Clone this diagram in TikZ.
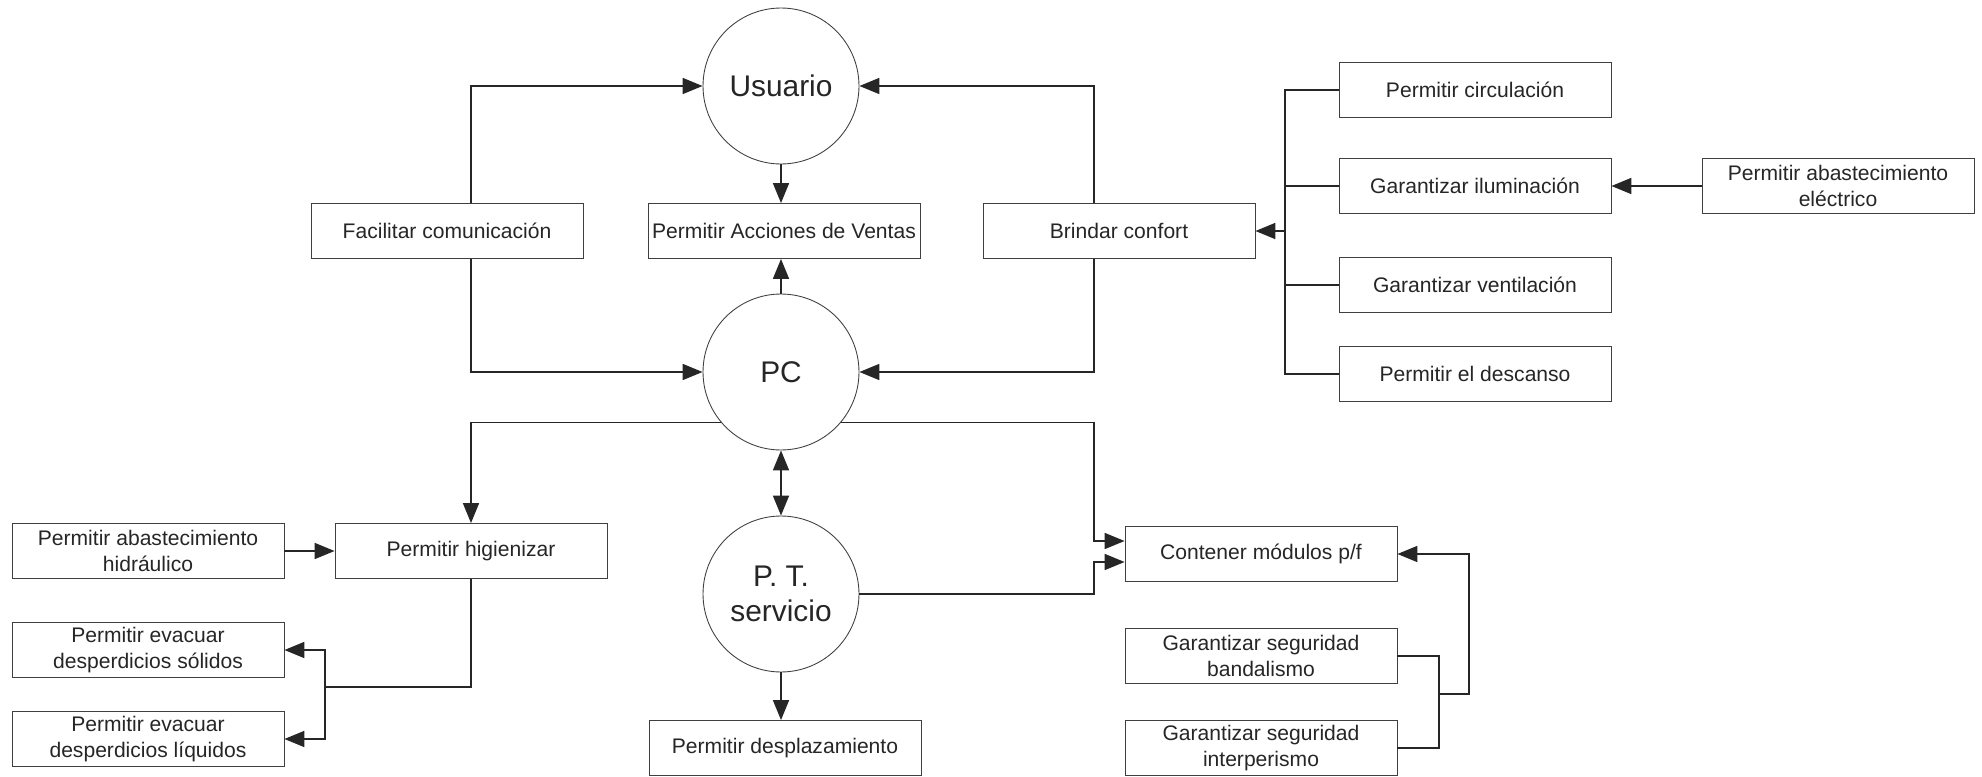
\documentclass[tikz,border=0pt]{standalone}
\usepackage{fontspec}
\setmainfont{Liberation Sans}
\usepackage{tikz}
\usetikzlibrary{positioning,arrows.meta}

\begin{document}
\begin{tikzpicture}[x=0.02cm,y=-0.02cm,->,>={Triangle[length=4mm,width=3.2mm]},line width=1pt,color=black!85]
  \tikzstyle{box}=[rectangle,draw=black!75,line width=0.5pt,minimum width=5.44cm,minimum height=1.1cm,align=center,inner sep=1pt,font=\fontsize{12}{14.4}\selectfont]
  \tikzstyle{ball}=[circle,draw=black!75,line width=0.5pt,minimum size=3.12cm,align=center,inner sep=0pt,font=\fontsize{17}{20}\selectfont]

  \useasboundingbox (0,0) rectangle (1982,777);

  \node[ball] (usuario) at (781,86) {Usuario};
  \node[ball] (pc) at (781,372) {PC};
  \node[ball] (pts) at (781,594) {P. T.\\servicio};

  \node[box] (facil) at (447,231) {Facilitar comunicación};
  \node[box] (acciones) at (784,231) {Permitir Acciones de Ventas};
  \node[box] (brindar) at (1119,231) {Brindar confort};
  \node[box] (circ) at (1475,90) {Permitir circulación};
  \node[box] (ilum) at (1475,186) {Garantizar iluminación};
  \node[box] (vent) at (1475,285) {Garantizar ventilación};
  \node[box] (desc) at (1475,374) {Permitir el descanso};
  \node[box] (elec) at (1838,186) {Permitir abastecimiento\\eléctrico};
  \node[box] (hidr) at (148,551) {Permitir abastecimiento\\hidráulico};
  \node[box] (higi) at (471,551) {Permitir higienizar};
  \node[box] (solid) at (148,650) {Permitir evacuar\\desperdicios sólidos};
  \node[box] (liq) at (148,739) {Permitir evacuar\\desperdicios líquidos};
  \node[box] (despl) at (785,748) {Permitir desplazamiento};
  \node[box] (cont) at (1261,554) {Contener módulos p/f};
  \node[box] (band) at (1261,656) {Garantizar seguridad\\bandalismo};
  \node[box] (inter) at (1261,748) {Garantizar seguridad\\interperismo};

  % junction points
  \coordinate (rc) at (1094,0);
  \coordinate (bb) at (1285,231);
  \coordinate (hb) at (325,687);
  \coordinate (sb) at (1439,694);

  % upper part
  \draw (facil.north -| higi.north) |- (usuario);
  \draw (facil.south -| higi.north) |- (pc);
  \draw (brindar.north -| rc) |- (usuario);
  \draw (brindar.south -| rc) |- (pc);
  \draw (usuario) -- (usuario |- acciones.north);
  \draw (pc) -- (pc |- acciones.south);
  \foreach \n in {circ,ilum,vent,desc} \draw[-] (\n.west) -| (bb);
  \draw (bb) -- (brindar);
  \draw (elec) -- (ilum);

  % lower part
  \draw[<->] (pc) -- (pts);
  \draw (pts) -- (pts |- despl.north);
  \draw (pc.220) -| (higi);
  \draw (pc.320) -- (pc.320 -| rc) |- ([yshift=2.6mm]cont.west);
  \draw (pts.east) -- (pts.east -| rc) |- ([yshift=-1.6mm]cont.west);
  \draw (hidr) -- (higi);
  \draw[-] (higi) |- (hb);
  \draw (hb) |- (solid);
  \draw (hb) |- (liq);
  \draw[-] (band.east) -| (sb);
  \draw[-] (inter.east) -| (sb);
  \draw (sb) -- ++(30,0) |- (cont);

\end{tikzpicture}
\end{document}
